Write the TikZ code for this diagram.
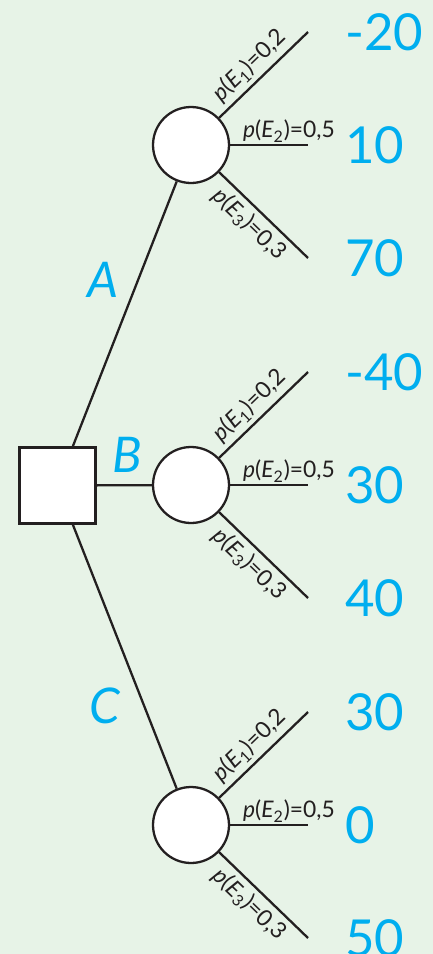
\documentclass[tikz,border=0pt]{standalone}
\usepackage{fontspec}
\setmainfont{Lato}
\definecolor{bgreen}{RGB}{231,243,231}
\definecolor{valcyan}{RGB}{0,174,239}
\definecolor{ink}{RGB}{35,31,32}
\newcommand{\probE}[2]{{\itshape p}({\itshape E}\textsubscript{#1})=#2}
\begin{document}
\begin{tikzpicture}[x=0.02cm,y=-0.02cm,
  every node/.style={font=\fontsize{13}{15}\selectfont},
  chance/.style={circle,draw=ink,fill=white,line width=1.3pt,minimum size=1.52cm,inner sep=0pt},
  decision/.style={rectangle,draw=ink,fill=white,line width=1.3pt,minimum size=1.52cm,inner sep=0pt},
  branch/.style={draw=ink,line width=1.3pt},
  prob/.style={text=ink,inner sep=1pt},
  value/.style={anchor=west,text=valcyan,inner sep=0pt,font=\fontsize{29}{30}\selectfont},
  choice/.style={text=valcyan,inner sep=0pt,font=\fontsize{28}{30}\selectfont\itshape}]
\fill[bgreen] (0,0) rectangle (433,954);
\useasboundingbox (0,0) rectangle (433,954);
\node[decision] (sq) at (57.5,485.5) {};
% chance nodes with their three outcomes
\foreach \n/\y/\u/\v/\w in {a/145/-20/10/70,b/485/-40/30/40,c/825/30/0/50} {
  \node[chance] (\n) at (191,\y) {};
  \coordinate (\n1) at (308,\y-113);
  \coordinate (\n2) at (308,\y);
  \coordinate (\n3) at (308,\y+113);
  \draw[branch] (\n) -- node[prob,sloped,above=1.5pt,pos=0.47] {\probE{1}{0,2}} (\n1);
  \draw[branch] (\n) -- node[prob,pos=0.13,anchor=south west] {\probE{2}{0,5}} (\n2);
  \draw[branch] (\n) -- node[prob,sloped,below=1.5pt,pos=0.47] {\probE{3}{0,3}} (\n3);
  \node[value] (\n v1) at (345,\y-113) {\u};
  \node[value] (\n v2) at (345,\y) {\v};
  \node[value] (\n v3) at (345,\y+113) {\w};
}
\draw[branch] (sq) -- (a);
\draw[branch] (sq) -- (b);
\draw[branch] (sq) -- (c);
\node[choice] (labA) at (103,280) {A};
\node[choice] (labB) at (127,455) {B};
\node[choice] (labC) at (105,706) {C};
\end{tikzpicture}
\end{document}
